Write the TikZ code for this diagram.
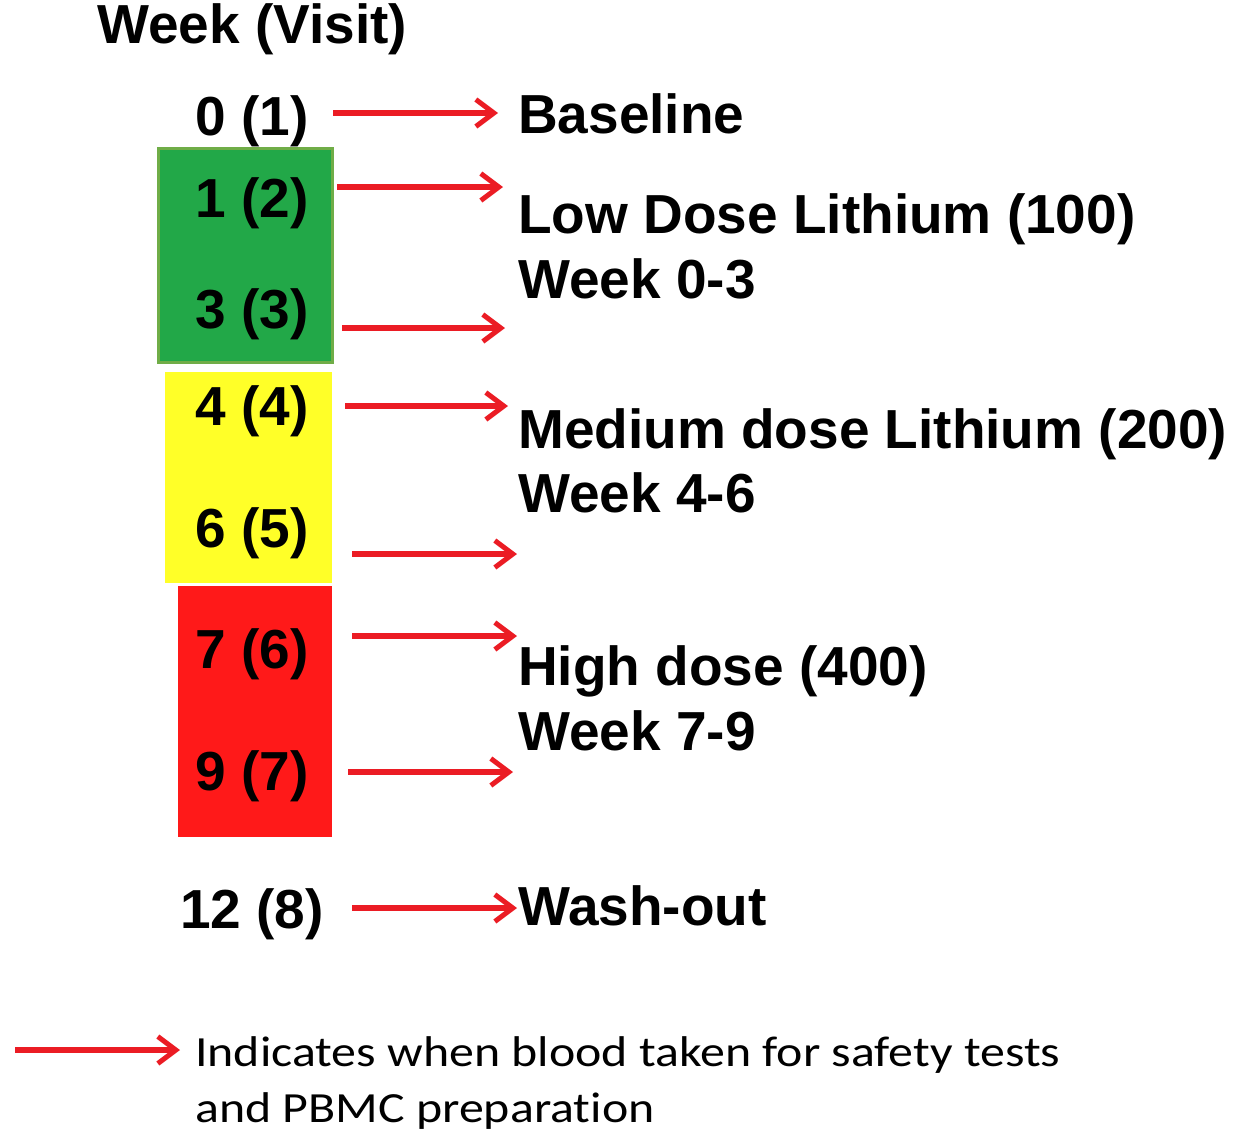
\documentclass[tikz,border=0pt]{standalone}
\usepackage{fontspec}
\setmainfont{Liberation Sans}
\newfontfamily\legendfont{Carlito}[FakeStretch=1.16,Ligatures=NoCommon]
\usetikzlibrary{arrows.meta}

\definecolor{lowgreen}{RGB}{34,168,72}
\definecolor{lowedge}{RGB}{112,173,71}
\definecolor{medyellow}{RGB}{255,255,40}
\definecolor{highred}{RGB}{255,25,25}
\definecolor{bloodred}{RGB}{235,28,36}

\tikzset{
  visit/.style={anchor=base,inner sep=0pt,font=\fontsize{55}{65}\selectfont\bfseries},
  dose/.style={anchor=base west,inner sep=0pt,font=\fontsize{55}{65}\selectfont\bfseries},
  legend/.style={anchor=base west,inner sep=0pt,font=\legendfont\fontsize{43}{57}\selectfont},
  blood/.style={draw=bloodred,line width=6pt,-{Straight Barb[length=18pt,width=27pt,line width=5pt]}}
}

\begin{document}
\begin{tikzpicture}[x=1pt,y=-1pt]
        \useasboundingbox (0,0) rectangle (1233,1136);

        % coloured dose blocks
        \fill[lowgreen,draw=lowedge,line width=3pt] (158,148) rectangle (332,362);
        \fill[medyellow] (165,372) rectangle (332,583);
        \fill[highred] (178,586) rectangle (332,837);

        % heading
        \node[dose] (head) at (97,43) {Week (Visit)};

        % week (visit) numbers
        \foreach \name/\y/\txt in {
            w0/135/0 (1),
            w1/217/1 (2),
            w3/328/3 (3),
            w4/425/4 (4),
            w6/547/6 (5),
            w7/668/7 (6),
            w9/790/9 (7),
            w12/928/12 (8)}
                \node[visit] (\name) at (252,\y) {\txt};

        % phase labels
        \node[dose] (base) at (518,133) {Baseline};
        \node[dose] (low) at (518,233) {Low Dose Lithium (100)};
        \node[dose] (lowwk) at (518,298) {Week 0-3};
        \node[dose] (med) at (518,448) {Medium dose Lithium (200)};
        \node[dose] (medwk) at (518,512) {Week 4-6};
        \node[dose] (high) at (518,685) {High dose (400)};
        \node[dose] (highwk) at (518,750) {Week 7-9};
        \node[dose] (wash) at (518,925) {Wash-out};

        % blood sampling arrows
        \foreach \name/\xa/\xb/\y in {
            b0/333/498/113, b1/337/503/187, b3/342/505/328, b4/345/508/406,
            b6/352/517/554, b7/352/517/636, b9/348/513/772, b12/352/517/908} {
                \coordinate (\name s) at (\xa,\y);
                \coordinate (\name e) at (\xb,\y);
                \draw[blood] (\name s) -- (\name e);
        }

        % legend
        \coordinate (keys) at (15,1050);
        \coordinate (keye) at (180,1050);
        \draw[blood] (keys) -- (keye);
        \node[legend] (key1) at (195,1066) {Indicates when blood taken for safety tests};
        \node[legend] (key2) at (195,1122) {and PBMC preparation};
\end{tikzpicture}
\end{document}
